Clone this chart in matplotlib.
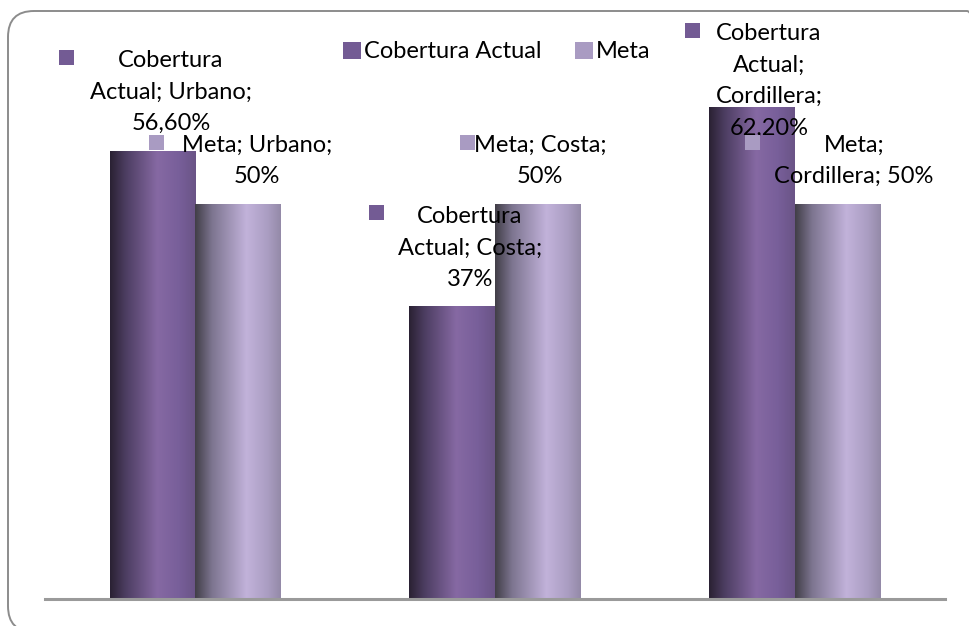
import matplotlib
matplotlib.use("Agg")
import matplotlib.pyplot as plt
import numpy as np
from matplotlib.colors import LinearSegmentedColormap
from matplotlib.patches import FancyBboxPatch, Rectangle, Patch
from matplotlib.transforms import IdentityTransform

# data
categories = ["Urbano", "Costa", "Cordillera"]
series = ["Cobertura Actual", "Meta"]
actual = [0.566, 0.37, 0.622]
meta = [0.50, 0.50, 0.50]

# how excel wrapped the data labels ({c}=category, {v}=value)
wrap_actual = ["Cobertura\nActual; {c};\n{v}",
               "Cobertura\nActual; {c};\n{v}",
               "Cobertura\nActual;\n{c};\n{v}"]
wrap_meta = ["Meta; {c};\n{v}", "Meta; {c};\n{v}", "Meta;\n{c}; {v}"]

W, H = 969, 626
plt.rcParams['font.family'] = ['Lato', 'DejaVu Sans']
FS = 17

fig = plt.figure(figsize=(W / 100, H / 100), dpi=100)
fig.patch.set_facecolor("white")

# rounded frame around the chart (runs past the right and bottom edge)
frame = FancyBboxPatch((8, -6), 985, H - 11 + 6,
                       boxstyle="round,pad=0,rounding_size=26",
                       transform=IdentityTransform(), fill=False,
                       edgecolor="#8c8c8c", linewidth=1.4)
fig.add_artist(frame)

ax = fig.add_axes([45 / W, (H - 599) / H, 900 / W, 553 / H])
for s in ["top", "right", "left"]:
    ax.spines[s].set_visible(False)
ax.spines["bottom"].set_color("#9a9a9a")
ax.spines["bottom"].set_linewidth(2.2)
ax.set_xticks([])
ax.set_yticks([])
ax.patch.set_visible(False)

cm_actual = LinearSegmentedColormap.from_list("act", [
    (0.0, "#2a2133"), (0.18, "#4c3d61"), (0.55, "#8669a3"),
    (0.8, "#785f9a"), (1.0, "#6a5486")])
cm_meta = LinearSegmentedColormap.from_list("met", [
    (0.0, "#413e47"), (0.2, "#7d7590"), (0.6, "#c2b2da"),
    (0.85, "#aa9dc2"), (1.0, "#948aa8")])

x = np.arange(len(categories))
bw = 0.285
grad = np.linspace(0, 1, 256).reshape(1, -1)

bars_a = ax.bar(x - bw / 2, actual, bw, color="none", edgecolor="none")
bars_m = ax.bar(x + bw / 2, meta, bw, color="none", edgecolor="none")
for bars, cmap in [(bars_a, cm_actual), (bars_m, cm_meta)]:
    for b in bars:
        x0, y0 = b.get_x(), b.get_y()
        ax.imshow(grad, cmap=cmap, aspect="auto", zorder=2,
                  extent=[x0, x0 + b.get_width(), y0, y0 + b.get_height()])
ax.set_xlim(-0.5, 2.5)
ax.set_ylim(0, 0.7)

key_actual = "#735b94"
key_meta = "#a99bc2"


def fmt(v):
    p = round(v * 100, 2)
    if p == int(p):
        return "%d%%" % int(p)
    return ("%.2f" % p).replace(".", ",") + "%"


def px(xp, yp):
    return xp / W, 1 - yp / H


def label(txt, cx, cy, kx, ky, kcol):
    fig.text(*px(cx, cy), txt, ha="center", va="center", fontsize=FS,
             linespacing=1.62, color="black", zorder=5)
    fig.add_artist(Rectangle((kx - 7.5, H - ky - 7.5), 15, 15,
                             transform=IdentityTransform(),
                             facecolor=kcol, edgecolor="none", zorder=6))


# data label positions (text centre x, block centre y, key x, key y)
pos_actual = [(171, 92, 66, 57), (470, 248, 376, 212), (769, 81, 692, 30)]
pos_meta = [(257, 161, 156, 142), (540, 161, 467, 142), (854, 161, 752, 142)]

for i, c in enumerate(categories):
    label(wrap_actual[i].format(c=c, v=fmt(actual[i])), *pos_actual[i], key_actual)
    label(wrap_meta[i].format(c=c, v=fmt(meta[i])), *pos_meta[i], key_meta)

handles = [Patch(facecolor=key_actual, edgecolor="none"),
           Patch(facecolor=key_meta, edgecolor="none")]
fig.legend(handles, series, loc="center left",
           bbox_to_anchor=(343 / W, 1 - 52 / H), ncol=2, frameon=False,
           fontsize=FS, handlelength=0.75, handleheight=0.75,
           handletextpad=0.15, columnspacing=1.4, borderpad=0,
           borderaxespad=0)

fig.savefig("out.png", dpi=100, facecolor="white")
